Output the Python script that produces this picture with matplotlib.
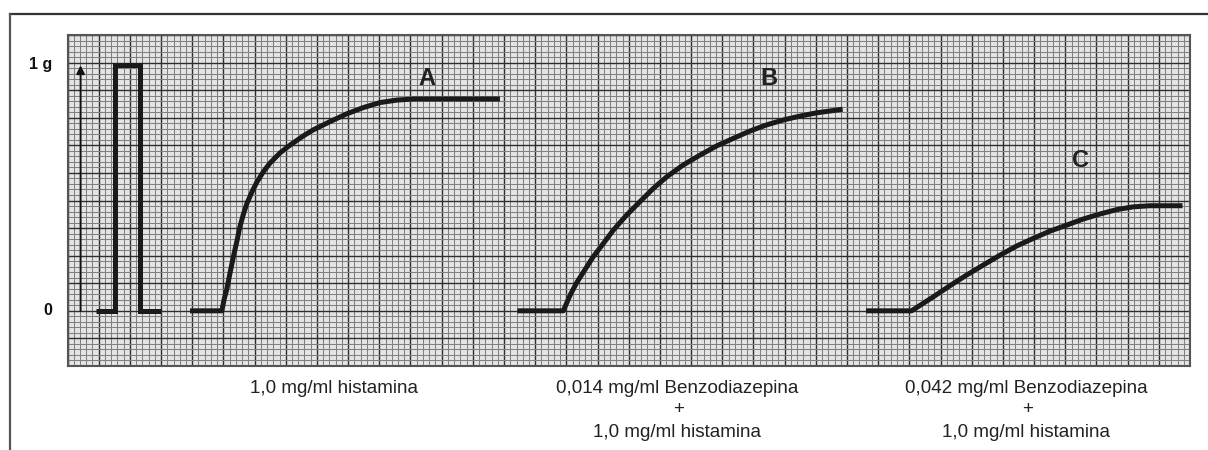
import numpy as np
import matplotlib
matplotlib.use("Agg")
import matplotlib.pyplot as plt
from matplotlib.lines import Line2D

plt.rcParams['font.family'] = ['Liberation Sans', 'DejaVu Sans']

# ---- data (grid units: x 0..36 major divisions, y 0..12 major divisions) ----
baseline = 2.0
one_gram = 10.9

calib_x = [0.91, 1.52, 1.52, 2.33, 2.33, 3.0]
calib_y = [2.0, 2.0, 10.9, 10.9, 2.0, 2.0]

curve_a_x = [3.93, 4.95, 5.03, 5.105, 5.21, 5.32, 5.43, 5.53, 5.64, 5.75, 5.91, 6.07, 6.28, 6.49,
             6.82, 7.14, 7.56, 7.88, 8.42, 8.95, 9.49, 10.02, 10.56, 11.09, 13.87]
curve_a_y = [2.0, 2.0, 2.45, 2.76, 3.36, 3.96, 4.51, 5.05, 5.50, 5.88, 6.30, 6.66, 7.04, 7.35,
             7.73, 8.01, 8.34, 8.56, 8.86, 9.14, 9.37, 9.55, 9.64, 9.68, 9.68]

curve_b_x = [14.43, 15.90, 16.12, 16.33, 16.60, 16.86, 17.19, 17.51, 17.93, 18.36, 18.79, 19.22,
             19.75, 20.29, 20.82, 21.35, 21.89, 22.42, 22.96, 23.49, 24.03, 24.56, 24.86]
curve_b_y = [2.0, 2.0, 2.57, 3.02, 3.50, 3.96, 4.45, 4.93, 5.47, 5.96, 6.44, 6.86,
             7.29, 7.65, 7.98, 8.25, 8.52, 8.74, 8.92, 9.06, 9.18, 9.26, 9.31]

curve_c_x = [25.61, 27.07, 27.77, 28.30, 28.84, 29.37, 29.91, 30.44, 30.98, 31.51, 32.05, 32.58,
             33.11, 33.65, 34.18, 34.71, 35.76]
curve_c_y = [2.0, 2.0, 2.51, 2.91, 3.30, 3.66, 4.02, 4.35, 4.63, 4.89, 5.11, 5.33,
             5.51, 5.67, 5.77, 5.81, 5.81]

curve_labels = ["A", "B", "C"]
curve_label_x = [11.52, 22.50, 32.50]
curve_label_y = [10.43, 10.43, 7.44]

axis_labels = ["1 g", "0"]
conditions = [
    ["1,0 mg/ml histamina"],
    ["0,014 mg/ml Benzodiazepina", "+", "1,0 mg/ml histamina"],
    ["0,042 mg/ml Benzodiazepina", "+", "1,0 mg/ml histamina"],
]

# ---- figure ----
W, H = 1208, 450
fig = plt.figure(figsize=(W / 100, H / 100), dpi=100)
fig.patch.set_facecolor("white")

def fx(px):
    return px / W

def fy(py):
    return 1 - py / H

# outer frame (top & left only)
fig.add_artist(Line2D([fx(10), fx(1208)], [fy(14), fy(14)], color="#333333", lw=1.6))
fig.add_artist(Line2D([fx(10), fx(10)], [fy(14), fy(450)], color="#555555", lw=1.6))

ax = fig.add_axes([fx(67.5), fy(366), fx(1190) - fx(67.5), fy(35) - fy(366)])
ax.set_xlim(0, 36)
ax.set_ylim(0, 12)
ax.set_facecolor("#e4e4e4")
ax.set_xticks(np.arange(0, 37, 1))
ax.set_yticks(np.arange(0, 13, 1))
ax.set_xticks(np.arange(0, 36.01, 0.2), minor=True)
ax.set_yticks(np.arange(0, 12.01, 0.2), minor=True)
ax.grid(which="minor", color="#808080", lw=0.75)
ax.grid(which="major", color="#2e2e2e", lw=1.0)
ax.tick_params(which="both", length=0, labelbottom=False, labelleft=False)
for s in ax.spines.values():
    s.set_color("#555555")
    s.set_linewidth(1.5)
ax.set_axisbelow(True)

lw = 3.6
col = "#1a1a1a"
ax.plot(calib_x, calib_y, color=col, lw=lw, solid_joinstyle="miter", solid_capstyle="butt")
for xs, ys in [(curve_a_x, curve_a_y), (curve_b_x, curve_b_y), (curve_c_x, curve_c_y)]:
    ax.plot(xs, ys, color=col, lw=lw, solid_joinstyle="round", solid_capstyle="butt")

# calibration arrow
ax.annotate("", xy=(0.42, one_gram), xytext=(0.42, baseline),
            arrowprops=dict(arrowstyle="-|>", color="#111111", lw=1.4,
                            mutation_scale=12, shrinkA=0, shrinkB=0))

for lab, x, y in zip(curve_labels, curve_label_x, curve_label_y):
    ax.text(x, y, lab, ha="center", va="center", fontsize=17, fontweight="bold", color="#222222")

# axis labels left
fig.text(fx(52), fy(65), axis_labels[0], ha="right", va="center", fontsize=11.5, fontweight="bold",
         color="#111111")
fig.text(fx(52), fy(310.5), axis_labels[1], ha="right", va="center", fontsize=11.5, fontweight="bold",
         color="#111111")

# condition labels
cond_x = [334, 677, 1026]
tkw = dict(fontsize=13.6, color="#222222")
for cx, lines in zip(cond_x, conditions):
    fig.text(fx(cx), fy(393), lines[0], ha="center", va="baseline", **tkw)
    if len(lines) > 1:
        fig.text(fx(cx + 2), fy(409), lines[1], ha="center", va="center", **tkw)
        fig.text(fx(cx), fy(437), lines[2], ha="center", va="baseline", **tkw)

fig.savefig("out.png", dpi=100)
